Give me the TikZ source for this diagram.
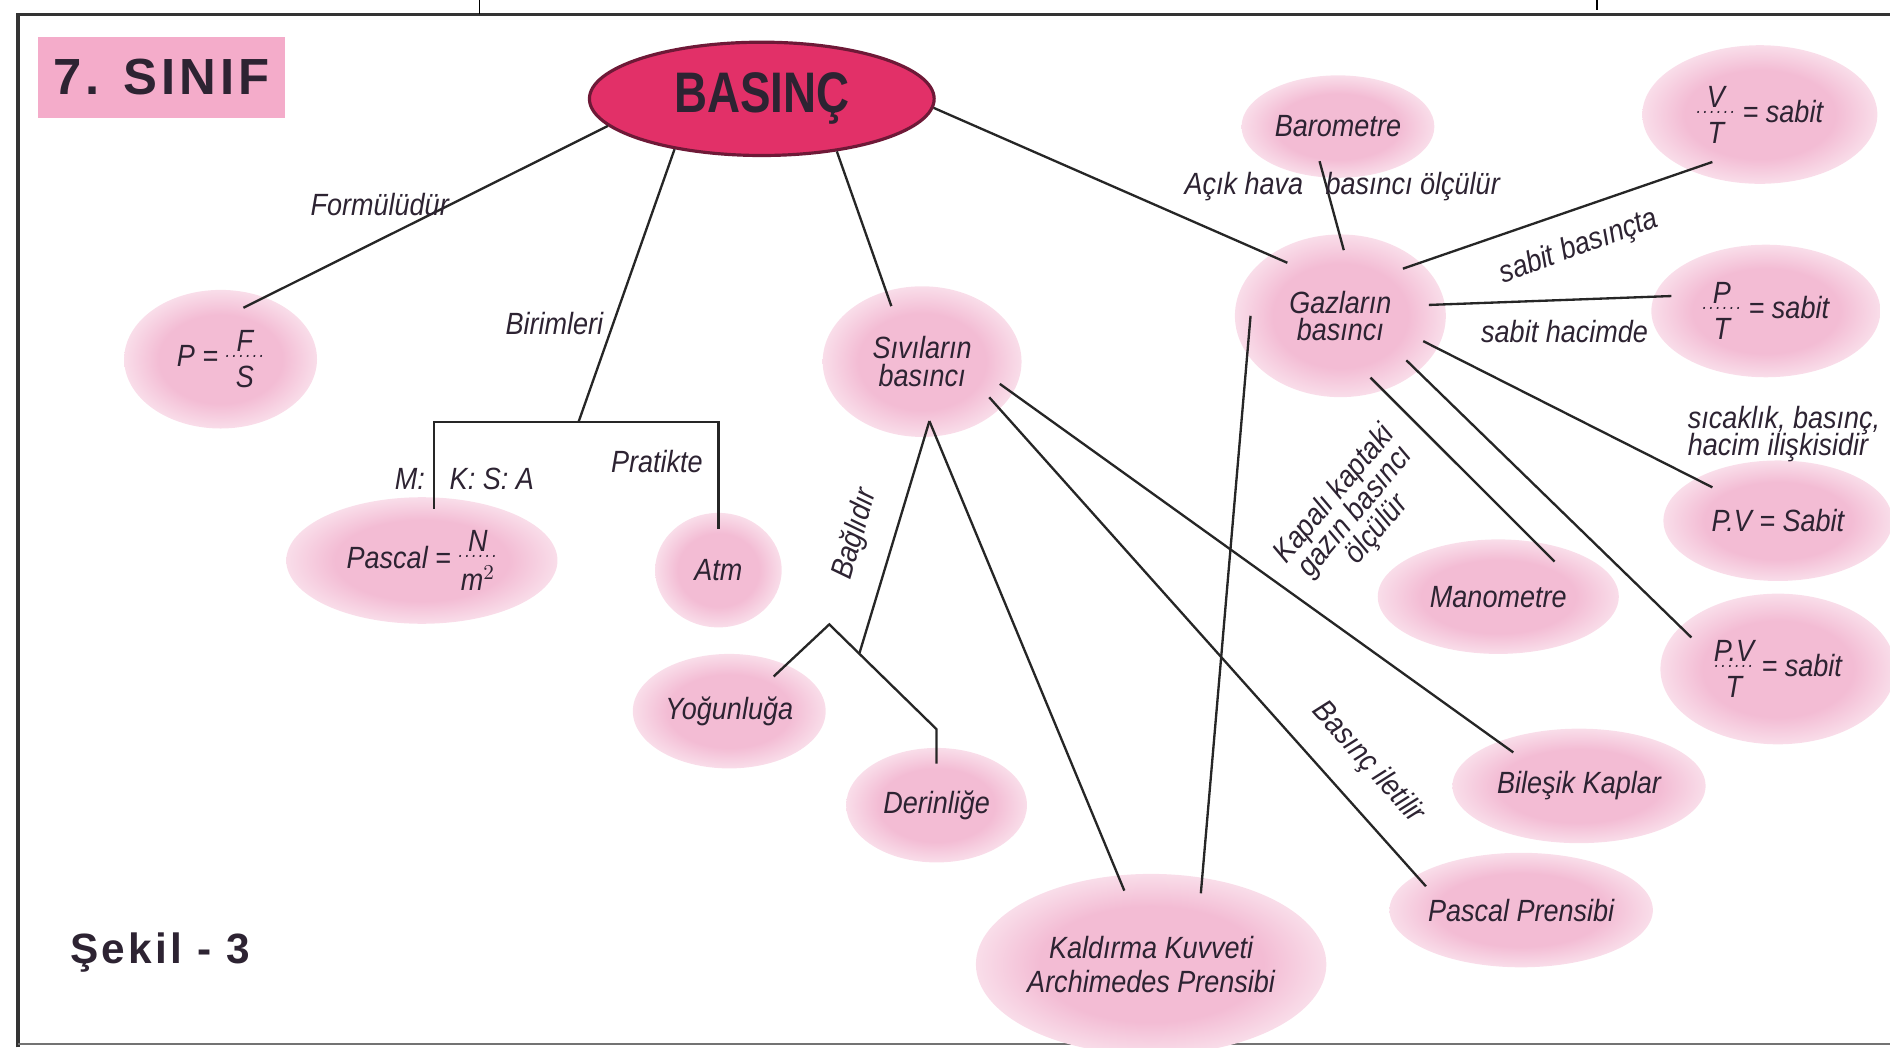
\documentclass[tikz,border=0pt]{standalone}
\usepackage{fontspec}
\setmainfont{Liberation Sans}[FakeStretch=0.88]
\newfontfamily\condfont{Liberation Sans}[FakeStretch=0.80]
\newfontfamily\widefont{Liberation Sans}[LetterSpace=8]
\usetikzlibrary{shapes.geometric}
\definecolor{blobpink}{RGB}{243,188,212}
\definecolor{boxpink}{RGB}{244,172,202}
\definecolor{hotpink}{RGB}{226,48,104}
\definecolor{darkpink}{RGB}{110,25,55}
\definecolor{txt}{RGB}{45,35,50}
\pgfdeclareradialshading{blobshade}{\pgfpoint{0bp}{0bp}}{color(0bp)=(blobpink); color(16bp)=(blobpink); color(34bp)=(white); color(50bp)=(white)}
\newcommand{\lbl}{\fontsize{14.5}{16}\selectfont\itshape}
\newcommand{\dfr}[2]{$\vcenter{\hbox{\shortstack[c]{#1\\[-1pt]{\fontsize{9}{9}\selectfont.\kern1pt.\kern1pt.\kern1pt.\kern1pt.\kern1pt.}\\[1pt]#2}}}$}
\begin{document}
\begin{tikzpicture}[x=0.02cm,y=-0.02cm,
  blob/.style={ellipse, shade, shading=blobshade, text=txt, font=\lbl, align=center, inner sep=0pt, outer sep=-0.26cm},
  sz/.style 2 args={minimum width=#1*0.02cm, minimum height=#2*0.02cm},
  lab/.style={text=txt, font=\lbl, inner sep=0pt, align=center},
  conn/.style={draw=black!85, line width=1.1pt}]
\useasboundingbox (0,0) rectangle (1568,869);
% frame
\draw[line width=1.8pt, black!80] (15,869) -- (15,12) -- (1568,12);
\draw[line width=0.8pt, black!55] (15,866) -- (1568,866);
\draw[line width=0.6pt] (398,0) -- (398,12);
\draw[line width=0.6pt] (1325,0) -- (1325,8);
% title
\node[fill=boxpink, sz={205}{67}, text=txt, font=\widefont\bfseries\fontsize{24}{26}\selectfont] (sinif) at (134,64) {7. SINIF};
\node[text=txt, font=\widefont\bfseries\fontsize{20}{22}\selectfont, inner sep=0pt] (sekil) at (133,790) {Şekil - 3};
% main
\node[ellipse, fill=hotpink, draw=darkpink, line width=1.5pt, sz={286}{94}, text=txt, font=\condfont\bfseries\fontsize{27}{29}\selectfont] (basinc) at (632,82) {BASINÇ};
% blobs
\node[blob, sz={160}{115}] (pf) at (183,298) {P = \dfr{F}{S}};
\node[blob, sz={225}{105}] (pascal) at (350,465) {Pascal = \dfr{N}{m$^2$}};
\node[blob, sz={105}{95}] (atm) at (596,473) {Atm};
\node[blob, sz={165}{125}] (sivi) at (765,300) {Sıvıların\\[-3pt]basıncı};
\node[blob, sz={160}{95}] (yog) at (605,590) {Yoğunluğa};
\node[blob, sz={150}{95}] (der) at (777,668) {Derinliğe};
\node[blob, sz={285}{150}] (kald) at (955,800) {Kaldırma Kuvveti\\Archimedes Prensibi};
\node[blob, sz={160}{85}] (baro) at (1110,105) {Barometre};
\node[blob, sz={175}{135}] (gaz) at (1112,262) {Gazların\\[-3pt]basıncı};
\node[blob, sz={195}{115}] (vt) at (1460,95) {\dfr{V}{T} = sabit};
\node[blob, sz={190}{110}] (pt) at (1465,258) {\dfr{P}{T} = sabit};
\node[blob, sz={190}{100}] (pv) at (1475,432) {P.V = Sabit};
\node[blob, sz={195}{125}] (pvt) at (1475,555) {\dfr{P.V}{T} = sabit};
\node[blob, sz={200}{95}] (mano) at (1243,495) {Manometre};
\node[blob, sz={210}{95}] (bil) at (1310,652) {Bileşik Kaplar};
\node[blob, sz={215}{95}] (pasp) at (1262,755) {Pascal Prensibi};
% bracket and fork points
\coordinate (bl) at (360,350);
\coordinate (bm) at (480,350);
\coordinate (br) at (596,350);
\coordinate (blend) at (360,422);
\coordinate (fkt) at (688,518);
\coordinate (fkr) at (777,605);
\coordinate (fkm) at (713,542);
% connectors
\draw[conn] (basinc.190) -- (pf.66);
\draw[conn] (basinc.210) -- (bm);
\draw[conn] (blend) -- (bl) -- (br) -- (atm.north);
\draw[conn] (basinc.-35) -- (sivi.119);
\draw[conn] (basinc.-3) -- (gaz.135);
\draw[conn] (baro.242) -- (gaz.87);
\draw[conn] (gaz.37) -- (vt.225);
\draw[conn] (gaz.7) -- (pt.171);
\draw[conn] (gaz.-17) -- (pv.153);
\draw[conn] (gaz.-34) -- (pvt.160);
\draw[conn] (gaz.-64) -- (mano.32);
\draw[conn] (gaz.180) -- (kald.55);
\draw[conn] (sivi.-83) -- (kald.110);
\draw[conn] (sivi.-28) -- (pasp.166);
\draw[conn] (sivi.-16) -- (bil.153);
\draw[conn] (sivi.-83) -- (fkm);
\draw[conn] (yog.38) -- (fkt) -- (fkr) -- (der.north);
% labels
\node[lab] (l1) at (315,170) {Formülüdür};
\node[lab] (l2) at (460,268) {Birimleri};
\node[lab] (l3) at (340,397) {M:};
\node[lab] (l4) at (408,397) {K: S: A};
\node[lab] (l5) at (545,383) {Pratikte};
\node[lab, rotate=74] (l6) at (710,443) {Bağlıdır};
\node[lab] (l7) at (1032,155) {Açık hava};
\node[lab] (l8) at (1172,155) {basıncı ölçülür};
\node[lab, rotate=20] (l9) at (1310,205) {sabit basınçta};
\node[lab] (l10) at (1298,275) {sabit hacimde};
\node[lab, align=left, anchor=west] (l11) at (1400,360) {sıcaklık, basınç,\\[-3pt]hacim ilişkisidir};
\node[lab, rotate=50] (l12) at (1125,425) {Kapalı kaptaki\\[-3pt]gazın basıncı\\[-3pt]ölçülür};
\node[lab, rotate=-48] (l13) at (1135,633) {Basınç iletilir};
\end{tikzpicture}
\end{document}
